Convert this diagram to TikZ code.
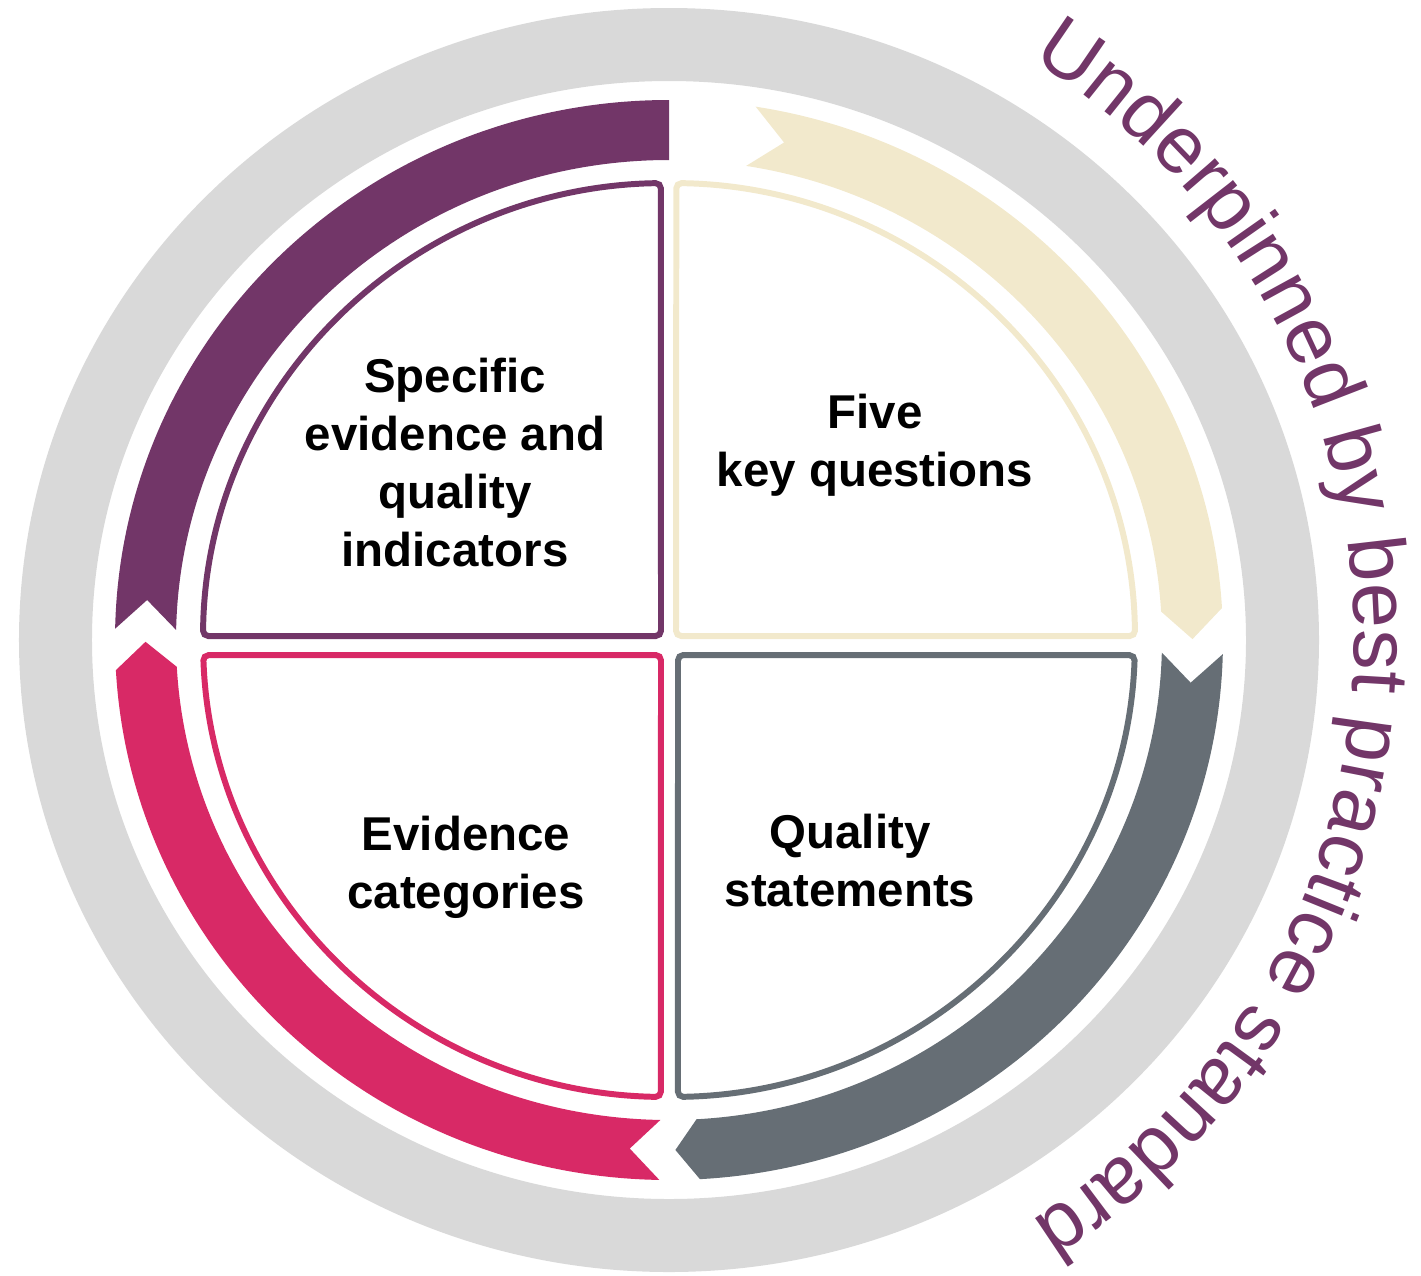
\documentclass[tikz,border=0pt]{standalone}
\usepackage{fontspec}
\setmainfont{Liberation Sans}
\usetikzlibrary{decorations.text}
\definecolor{cqcpurple}{RGB}{114,54,104}
\definecolor{cqcpink}{RGB}{216,41,102}
\definecolor{cqcslate}{RGB}{102,110,117}
\definecolor{cqccream}{RGB}{242,233,204}
\definecolor{ringgrey}{RGB}{217,217,217}

\begin{document}
\begin{tikzpicture}[
    qbox/.style={line width=1.7pt, rounded corners=1.5pt, fill=white},
    qlabel/.style={align=center, font=\fontsize{13.5}{16.5}\selectfont\bfseries},
  ]
  \useasboundingbox (-6.69,-6.35) rectangle (7.52,6.40);
  % grey ring
  \fill[ringgrey, even odd rule] (0,0) ellipse[x radius=6.50, y radius=6.32]
    (0,0) ellipse[x radius=5.77, y radius=5.59];
  % arrows round the circle
  \fill[cqcpurple] (178.8:5.54 and 5.40) arc[start angle=178.8, end angle=90, x radius=5.54, y radius=5.40]
    -- (90:4.93 and 4.80) arc[start angle=90, end angle=178.8, x radius=4.93, y radius=4.80]
    -- (175.5:5.235 and 5.10) -- cycle;
  \fill[cqccream] (81:5.54 and 5.40) arc[start angle=81, end angle=3.4, x radius=5.54, y radius=5.40]
    -- (0.1:5.235 and 5.10) -- (3.4:4.93 and 4.80)
    arc[start angle=3.4, end angle=81, x radius=4.93, y radius=4.80]
    -- (77.3:5.235 and 5.10) -- cycle;
  \fill[cqcslate] (-1.5:5.54 and 5.40) arc[start angle=-1.5, end angle=-86.8, x radius=5.54, y radius=5.40]
    -- (-89.3:5.235 and 5.10) -- (-86.8:4.93 and 4.80)
    arc[start angle=-86.8, end angle=-1.5, x radius=4.93, y radius=4.80]
    -- (-4.8:5.235 and 5.10) -- cycle;
  \fill[cqcpink] (269:5.54 and 5.40) arc[start angle=269, end angle=183.2, x radius=5.54, y radius=5.40]
    -- (180.2:5.235 and 5.10) -- (183.2:4.93 and 4.80)
    arc[start angle=183.2, end angle=269, x radius=4.93, y radius=4.80]
    -- (265.7:5.235 and 5.10) -- cycle;
  % quarter boxes
  \draw[qbox, draw=cqcpurple] (-0.08,0.04) -- (91:4.66 and 4.57)
    arc[start angle=91, end angle=179.5, x radius=4.66, y radius=4.57] -- cycle;
  \draw[qbox, draw=cqccream] (0.07,0.04) -- (0.5:4.66 and 4.57)
    arc[start angle=0.5, end angle=89.1, x radius=4.66, y radius=4.57] -- cycle;
  \draw[qbox, draw=cqcslate] (0.09,-0.15) -- (-1.9:4.66 and 4.57)
    arc[start angle=-1.9, end angle=-88.9, x radius=4.66, y radius=4.57] -- cycle;
  \draw[qbox, draw=cqcpink] (-0.08,-0.15) -- (269:4.66 and 4.57)
    arc[start angle=269, end angle=181.9, x radius=4.66, y radius=4.57] -- cycle;
  % labels
  \node[qlabel] (specific) at (-2.14,1.77) {Specific\\evidence and\\quality\\indicators};
  \node[qlabel] (fivekq) at (2.06,1.95) {Five\\key questions};
  \node[qlabel] (evcat) at (-2.03,-2.27) {Evidence\\categories};
  \node[qlabel] (qualst) at (1.81,-2.21) {Quality\\statements};
  % curved text
  \path[decorate, decoration={text along path, text align=center, text color=cqcpurple,
      text={|\fontsize{23}{27.5}\selectfont|Underpinned by best practice standard}}]
    (58:6.85) arc[start angle=58, end angle=-58, radius=6.85];
\end{tikzpicture}
\end{document}
